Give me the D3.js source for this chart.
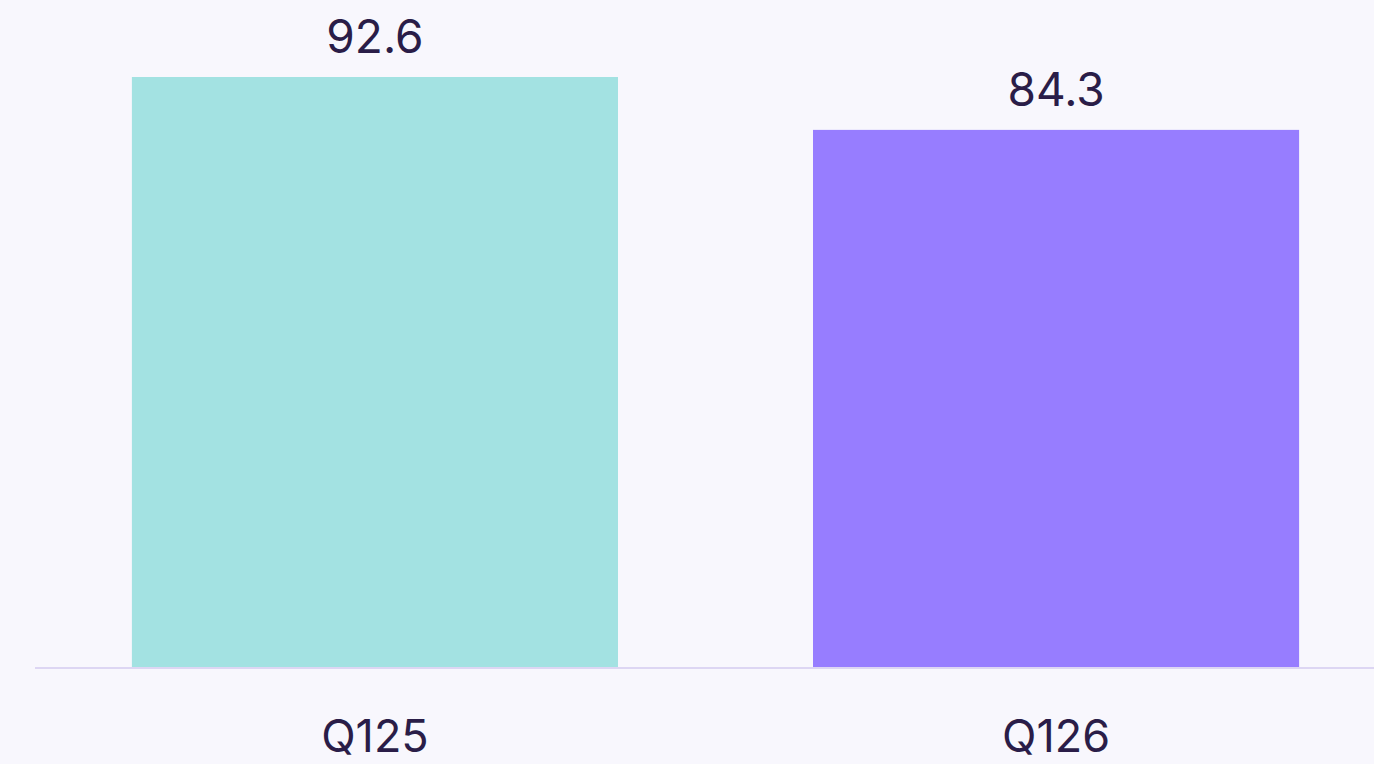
<!DOCTYPE html>
<html>
<head>
<meta charset="utf-8">
<script src="https://cdn.jsdelivr.net/npm/d3@7"></script>
<style>
  html, body { margin: 0; padding: 0; background: #f8f7fd; }
  svg { display: block; }
  text { font-family: Inter, "Liberation Sans", Arial, sans-serif; fill: #2a1d48; }
</style>
</head>
<body>
<div id="chart"></div>
<script>
var categories = ['Q125', 'Q126'];
var values = [92.6, 84.3];
var barColors = ['#a3e2e2', '#977dff'];

var width = 1374, height = 764;
var baseline = 667;

var svg = d3.select('#chart').append('svg')
  .attr('width', width)
  .attr('height', height);

var x = d3.scaleBand()
  .domain(categories)
  .range([34.5, 1396.5])
  .paddingInner(0.2863)
  .paddingOuter(0.143);

var y = d3.scaleLinear()
  .domain([0, 92.6])
  .range([baseline, 77]);

svg.selectAll('rect.bar').data(values)
  .enter()
    .append('rect')
      .attr('class', 'bar')
      .attr('x', function(d, i) { return x(categories[i]); })
      .attr('y', function(d) { return y(d); })
      .attr('width', x.bandwidth())
      .attr('height', function(d) { return baseline - y(d); })
      .attr('fill', function(d, i) { return barColors[i]; });

// baseline
svg.append('line')
  .attr('x1', 35)
  .attr('x2', width)
  .attr('y1', baseline + 1)
  .attr('y2', baseline + 1)
  .attr('stroke', '#ddd6f3')
  .attr('stroke-width', 2);

svg.selectAll('text.value').data(values)
  .enter()
    .append('text')
      .attr('class', 'value')
      .attr('x', function(d, i) { return x(categories[i]) + x.bandwidth() / 2; })
      .attr('y', function(d) { return y(d) - 24; })
      .attr('text-anchor', 'middle')
      .attr('font-size', 46)
      .text(function(d) { return d.toFixed(1); });

svg.selectAll('text.cat').data(categories)
  .enter()
    .append('text')
      .attr('class', 'cat')
      .attr('x', function(d) { return x(d) + x.bandwidth() / 2; })
      .attr('y', 752)
      .attr('text-anchor', 'middle')
      .attr('font-size', 45)
      .text(function(d) { return d; });
</script>
</body>
</html>
